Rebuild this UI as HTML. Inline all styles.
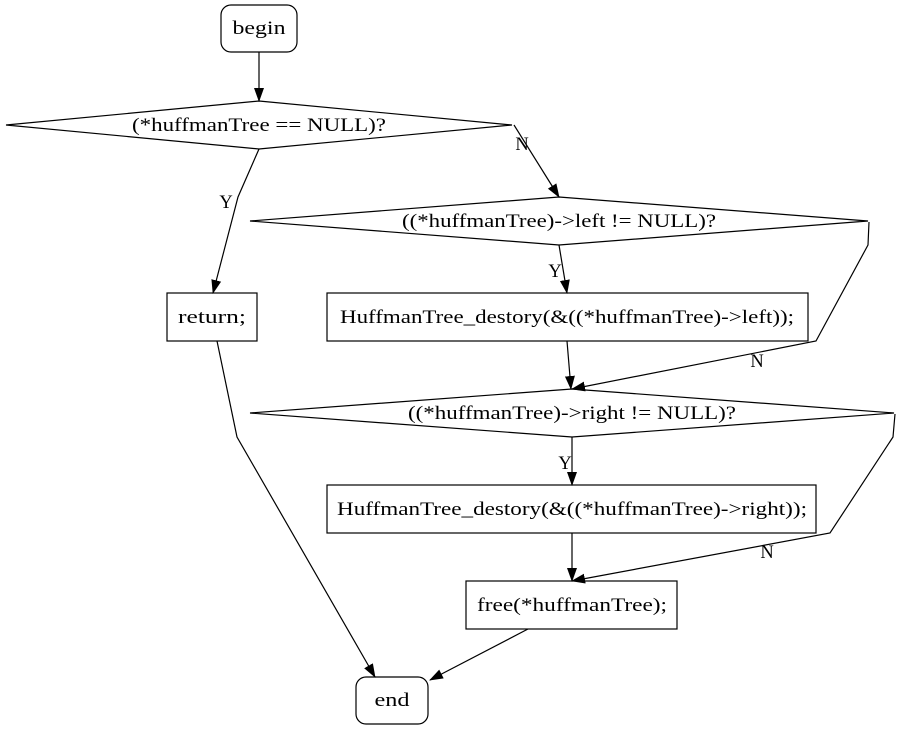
<!DOCTYPE html>
<html><head><meta charset="utf-8"><style>html,body{margin:0;padding:0;background:#fff}svg{display:block}</style></head><body>
<svg width="902" height="731" viewBox="0 0 902 731" xmlns="http://www.w3.org/2000/svg" font-family="'Liberation Serif','DejaVu Serif',serif" font-size="18.5">
<defs><marker id="a" markerWidth="14" markerHeight="12" refX="13" refY="6" orient="auto" markerUnits="userSpaceOnUse"><path d="M0,1 L14,6 L0,11 Z" fill="#000"/></marker></defs>
<g fill="none" stroke="#000" stroke-width="1.2">
<rect x="221" y="5" width="76" height="47" rx="10"/>
<polygon points="6,125 259,101 512,125 259,149" fill="#fff"/>
<polygon points="250,221 559,197 868,221 559,245" fill="#fff"/>
<rect x="167" y="293" width="90" height="48"/>
<rect x="327" y="293" width="481" height="48"/>
<polygon points="250,413 572,389 894,413 572,437" fill="#fff"/>
<rect x="327" y="485" width="489" height="48"/>
<rect x="466" y="581" width="211" height="48"/>
<rect x="356" y="677" width="72" height="47" rx="10"/>
<g marker-end="url(#a)">
<path d="M259,52 L259,101"/>
<path d="M259,149 L238,197 L213,293"/>
<path d="M514,125 L559,197"/>
<path d="M559,245 L567,293"/>
<path d="M869,222 L868,245 L816,341 L572,389"/>
<path d="M567,341 L571,389"/>
<path d="M572,437 L572,485"/>
<path d="M895,414 L893,437 L830,533 L572,581"/>
<path d="M572,533 L572,581"/>
<path d="M528,629 L430,680"/>
<path d="M217,341 L237,437 L375,677"/>
</g></g>
<g text-anchor="middle" fill="#000">
<text x="259" y="34" textLength="53" lengthAdjust="spacingAndGlyphs">begin</text>
<text x="259" y="131" textLength="254" lengthAdjust="spacingAndGlyphs">(*huffmanTree == NULL)?</text>
<text x="559" y="227" textLength="314" lengthAdjust="spacingAndGlyphs">((*huffmanTree)-&gt;left != NULL)?</text>
<text x="212" y="323" textLength="68" lengthAdjust="spacingAndGlyphs">return;</text>
<text x="567" y="323" textLength="454" lengthAdjust="spacingAndGlyphs">HuffmanTree_destory(&amp;((*huffmanTree)-&gt;left));</text>
<text x="572" y="419" textLength="328" lengthAdjust="spacingAndGlyphs">((*huffmanTree)-&gt;right != NULL)?</text>
<text x="572" y="515" textLength="470" lengthAdjust="spacingAndGlyphs">HuffmanTree_destory(&amp;((*huffmanTree)-&gt;right));</text>
<text x="572" y="611" textLength="190" lengthAdjust="spacingAndGlyphs">free(*huffmanTree);</text>
<text x="392" y="706" textLength="35" lengthAdjust="spacingAndGlyphs">end</text>
<text x="226" y="208">Y</text>
<text x="522" y="150">N</text>
<text x="555" y="277">Y</text>
<text x="757" y="367">N</text>
<text x="565" y="469">Y</text>
<text x="767" y="558">N</text>
</g>
</svg>
</body></html>
